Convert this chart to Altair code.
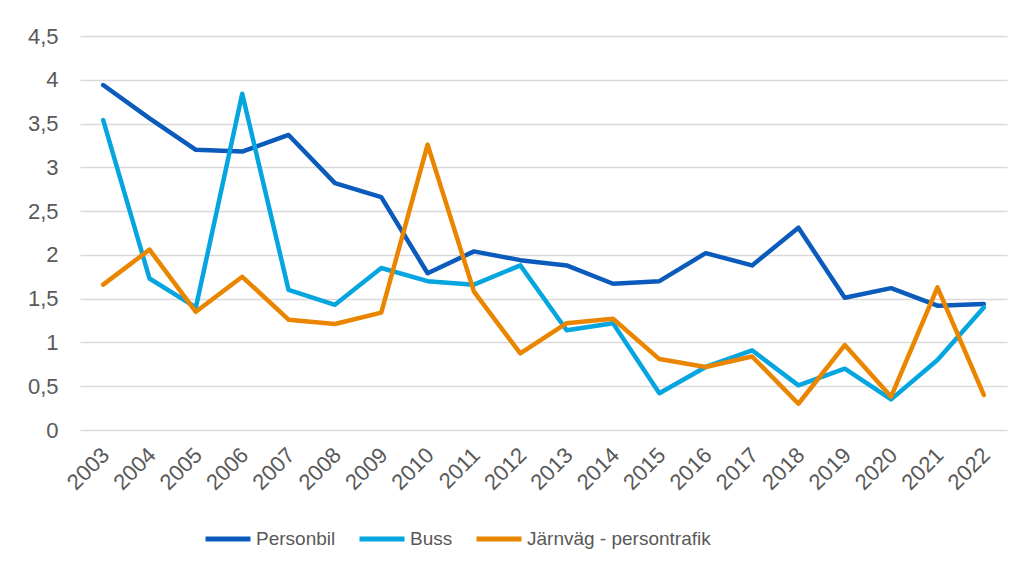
import altair as alt
import pandas as pd

years = [str(y) for y in range(2003, 2023)]
personbil = [3.94, 3.56, 3.20, 3.18, 3.37, 2.82, 2.66, 1.79, 2.04, 1.94,
             1.88, 1.67, 1.70, 2.02, 1.88, 2.31, 1.51, 1.62, 1.42, 1.44]
buss = [3.54, 1.73, 1.40, 3.84, 1.60, 1.43, 1.85, 1.70, 1.66, 1.88,
        1.14, 1.22, 0.42, 0.72, 0.91, 0.51, 0.70, 0.35, 0.80, 1.40]
jarnvag = [1.66, 2.06, 1.35, 1.75, 1.26, 1.21, 1.34, 3.26, 1.58, 0.875,
           1.22, 1.27, 0.81, 0.72, 0.84, 0.30, 0.97, 0.38, 1.63, 0.40]

series_names = ["Personbil", "Buss", "Järnväg - persontrafik"]
series_colors = ["#0a5bbb", "#05a5e0", "#ea8500"]
y_ticks = [0, 0.5, 1, 1.5, 2, 2.5, 3, 3.5, 4, 4.5]

rows = []
for name, vals in zip(series_names, [personbil, buss, jarnvag]):
    for yr, v in zip(years, vals):
        rows.append({"year": yr, "value": v, "series": name})
df = pd.DataFrame(rows)

FONT = "Liberation Sans"
TXT = "#595959"

chart = alt.Chart(df).mark_line(strokeWidth=4.5, strokeCap="round", strokeJoin="round").encode(
    x=alt.X("year:O", sort=years, title=None,
            scale=alt.Scale(padding=0.5),
            axis=alt.Axis(labelAngle=-45, labelFontSize=22, labelColor=TXT, labelFont=FONT,
                          ticks=False, domain=False, grid=False, labelPadding=14, labelOffset=-5)),
    y=alt.Y("value:Q", title=None,
            scale=alt.Scale(domain=[0, 4.5], nice=False, zero=True),
            axis=alt.Axis(values=y_ticks, labelExpr="replace(toString(datum.value), '.', ',')",
                          labelFontSize=22, labelColor=TXT, labelFont=FONT,
                          ticks=False, domain=False, grid=True, gridColor="#d9d9d9",
                          gridWidth=1.3, labelPadding=22)),
    color=alt.Color("series:N", sort=series_names,
                    scale=alt.Scale(domain=series_names, range=series_colors),
                    legend=alt.Legend(title=None, orient="none", legendX=123, legendY=478,
                                      direction="horizontal", columns=3,
                                      symbolType="stroke", symbolSize=2025, symbolStrokeWidth=5,
                                      labelFontSize=19, labelColor=TXT, labelFont=FONT,
                                      labelLimit=0, labelOffset=3, columnPadding=13)),
).properties(
    width=927, height=394,
    autosize=alt.AutoSizeParams(type="none"),
    padding={"left": 72, "top": 28, "right": 9, "bottom": 130},
).configure_view(stroke=None)

chart.save("out.html", embed_options={"renderer": "svg", "actions": False})
